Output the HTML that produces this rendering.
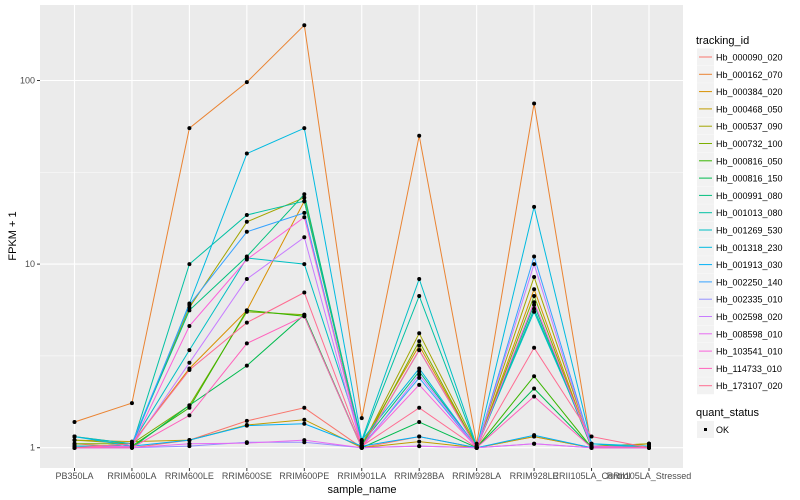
<!DOCTYPE html>
<html><head><meta charset="utf-8"><style>
body{margin:0;background:#fff;}
svg{display:block;font-family:"Liberation Sans",sans-serif;}
</style></head><body>
<svg id="chart" width="800" height="500">
<rect x="40" y="5" width="643" height="463" fill="#EBEBEB"/>
<g id="grid"></g><g id="series"></g><g id="axes"></g><g id="legend"></g>
<text x="362" y="493" font-size="11" text-anchor="middle" fill="#000">sample_name</text>
<text transform="translate(16,236) rotate(-90)" font-size="11" text-anchor="middle" fill="#000">FPKM + 1</text>
</svg>
<script>
const categories=["PB350LA","RRIM600LA","RRIM600LE","RRIM600SE","RRIM600PE","RRIM901LA","RRIM928BA","RRIM928LA","RRIM928LE","RRII105LA_Control","RRII105LA_Stressed"];
const seriesNames=["Hb_000090_020","Hb_000162_070","Hb_000384_020","Hb_000468_050","Hb_000537_090","Hb_000732_100","Hb_000816_050","Hb_000816_150","Hb_000991_080","Hb_001013_080","Hb_001269_530","Hb_001318_230","Hb_001913_030","Hb_002250_140","Hb_002335_010","Hb_002598_020","Hb_008598_010","Hb_103541_010","Hb_114733_010","Hb_173107_020"];
const colors=["#F8766D","#EA8331","#D89000","#C09B00","#A3A500","#7CAE00","#39B600","#00BB4E","#00BF7D","#00C1A3","#00BFC4","#00BAE0","#00B0F6","#35A2FF","#9590FF","#C77CFF","#E76BF3","#FA62DB","#FF62BC","#FF6C91"];
const s0=[1.05,1.0,1.1,1.4,1.65,1.0,1.15,1.0,1.15,1.0,1.05];
const s1=[1.38,1.75,55,98,200,1.45,50,1.05,75,1.0,1.05];
const s2=[1.15,1.05,2.7,5.6,22,1.05,3.6,1.0,7.3,1.0,1.05];
const s3=[1.1,1.08,1.1,1.33,1.42,1.0,1.08,1.0,1.15,1.0,1.02];
const s4=[1.1,1.05,5.8,17,23,1.02,4.2,1.02,8.5,1.02,1.05];
const s5=[1.05,1.05,1.7,5.5,5.3,1.0,3.8,1.0,6.7,1.0,1.0];
const s6=[1.02,1.02,1.65,5.6,5.2,1.0,3.4,1.0,2.45,1.0,1.0];
const s7=[1.0,1.0,1.7,2.8,5.3,1.0,1.38,1.0,2.1,1.0,1.0];
const s8=[1.0,1.05,5.6,11,24,1.05,2.6,1.0,6.0,1.0,1.0];
const s9=[1.0,1.02,10,18.5,22,1.08,6.7,1.0,5.7,1.02,1.0];
const s10=[1.15,1.05,3.4,10.8,10,1.1,8.3,1.02,5.5,1.05,1.0];
const s11=[1.15,1.02,6.1,40,55,1.1,2.7,1.0,20.5,1.05,1.02];
const s12=[1.02,1.02,1.1,1.32,1.35,1.02,1.15,1.0,1.17,1.0,1.0];
const s13=[1.0,1.05,6.0,15,19,1.02,2.4,1.0,11,1.02,1.0];
const s14=[1.0,1.0,1.02,1.07,1.07,1.0,1.02,1.0,1.05,1.0,1.0];
const s15=[1.0,1.02,2.9,8.3,14,1.0,2.5,1.0,10,1.0,1.0];
const s16=[1.0,1.0,1.05,1.06,1.1,1.0,1.02,1.0,1.05,1.0,1.0];
const s17=[1.0,1.02,4.6,10.6,18,1.02,2.2,1.0,6.2,1.02,1.0];
const s18=[1.0,1.0,1.5,3.7,5.2,1.0,3.4,1.0,1.9,1.0,1.0];
const s19=[1.0,1.05,2.65,4.8,7,1.02,1.65,1.0,3.5,1.15,1.0];
const seriesValues=[s0,s1,s2,s3,s4,s5,s6,s7,s8,s9,s10,s11,s12,s13,s14,s15,s16,s17,s18,s19];
const yTicks=[1,10,100];
const yTickLabels=["1","10","100"];
const yMinor=[3.1623,31.623];

const NS="http://www.w3.org/2000/svg";
function xS(i){return 74.5+i*57.45;}
function yS(v){return 447.7-Math.log10(v)*183.6;}
function mk(tag,attrs,parent){const e=document.createElementNS(NS,tag);for(const k in attrs)e.setAttribute(k,attrs[k]);parent.appendChild(e);return e;}
const grid=document.getElementById('grid'),ser=document.getElementById('series'),ax=document.getElementById('axes'),leg=document.getElementById('legend');
yMinor.forEach(v=>{const l=mk('line',{x1:40,x2:683,y1:yS(v),y2:yS(v),stroke:'#fff','stroke-width':0.5},grid);

});
yTicks.forEach((v,i)=>{const l=mk('line',{x1:40,x2:683,y1:yS(v),y2:yS(v),stroke:'#fff','stroke-width':1.1},grid);


const t=mk('line',{x1:37,x2:40,y1:yS(v),y2:yS(v),stroke:'#333','stroke-width':1},ax);


const tx=mk('text',{x:35,y:yS(v)+3,'font-size':9,'text-anchor':'end',fill:'#4D4D4D'},ax);tx.textContent=yTickLabels[i];

});
categories.forEach((c,i)=>{const l=mk('line',{x1:xS(i),x2:xS(i),y1:5,y2:468,stroke:'#fff','stroke-width':1.1},grid);


const t=mk('line',{x1:xS(i),x2:xS(i),y1:468,y2:471,stroke:'#333','stroke-width':1},ax);


const tx=mk('text',{x:xS(i),y:479,'font-size':9,'text-anchor':'middle',fill:'#4D4D4D'},ax);tx.textContent=c;

});
seriesValues.forEach((vals,s)=>{const pts=vals.map((v,i)=>xS(i).toFixed(1)+','+yS(v).toFixed(1)).join(' ');
const p=mk('polyline',{points:pts,fill:'none',stroke:colors[s],'stroke-width':1},ser);

});
seriesValues.forEach((vals)=>{vals.forEach((v,i)=>{const c=mk('circle',{cx:xS(i),cy:yS(v),r:2,fill:'#000'},ser);

});});
const lt=mk('text',{x:696,y:44,'font-size':11,fill:'#000'},leg);lt.textContent='tracking_id';


seriesNames.forEach((n,i)=>{const y=57+i*17.3;
const g=mk('g',{},leg);


mk('rect',{x:697,y:y-8.5,width:17,height:17,fill:'#F2F2F2'},g);
mk('line',{x1:699,x2:712,y1:y,y2:y,stroke:colors[i],'stroke-width':1},g);
const t=mk('text',{x:716,y:y+3.5,'font-size':9,fill:'#000'},g);t.textContent=n;});
const qt=mk('text',{x:696,y:416,'font-size':11,fill:'#000'},leg);qt.textContent='quant_status';


const qg=mk('g',{},leg);


mk('rect',{x:697,y:421,width:17,height:17,fill:'#F2F2F2'},qg);
mk('rect',{x:704,y:428,width:3,height:3,fill:'#000'},qg);
const ok=mk('text',{x:716,y:433,'font-size':9,fill:'#000'},qg);ok.textContent='OK';
</script>
</body></html>
